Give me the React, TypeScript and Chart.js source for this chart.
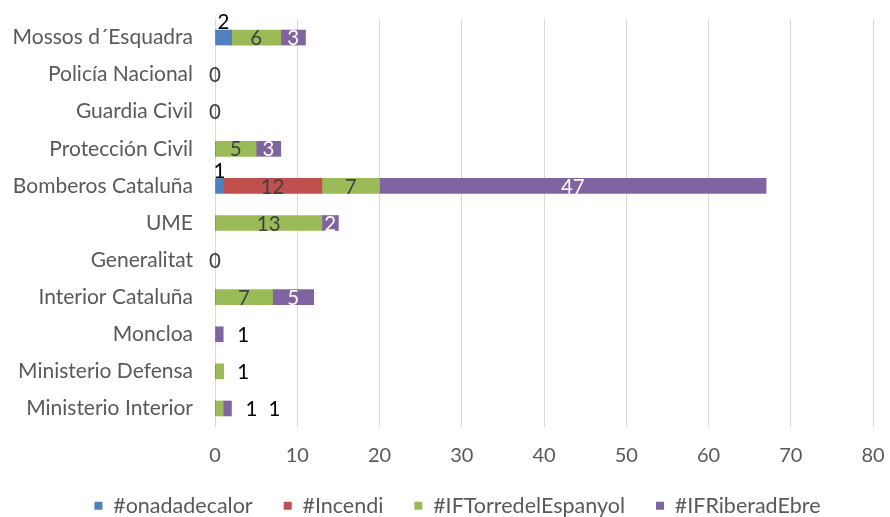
import React, { useEffect, useRef } from "react";
import { Chart, registerables } from "chart.js";

Chart.register(...registerables);

const categories = [
  "Mossos d´Esquadra",
  "Policía Nacional",
  "Guardia Civil",
  "Protección Civil",
  "Bomberos Cataluña",
  "UME",
  "Generalitat",
  "Interior Cataluña",
  "Moncloa",
  "Ministerio Defensa",
  "Ministerio Interior",
];
const seriesNames = ["#onadadecalor", "#Incendi", "#IFTorredelEspanyol", "#IFRiberadEbre"];
const onadadecalor = [2, 0, 0, 0, 1, 0, 0, 0, 0, 0, 0];
const incendi = [0, 0, 0, 0, 12, 0, 0, 0, 0, 0, 0];
const torreEspanyol = [6, 0, 0, 5, 7, 13, 0, 7, 0, 1, 1];
const riberaEbre = [3, 0, 0, 3, 47, 2, 0, 5, 1, 0, 1];
const xTicks = [0, 10, 20, 30, 40, 50, 60, 70, 80];

const colors = ["#4F81BD", "#C0504D", "#9BBB59", "#8064A2"];
const FONT = "Lato";

const labelPlugin = {
  id: "excelLabels",
  afterDatasetsDraw(chart: any) {
    const ctx = chart.ctx;
    const xScale = chart.scales.x;
    const n = chart.data.labels.length;
    ctx.save();
    ctx.font = `20.5px ${FONT}`;
    ctx.textAlign = "center";
    ctx.textBaseline = "middle";
    for (let i = 0; i < n; i++) {
      const vals = chart.data.datasets.map((d: any) => d.data[i] as number);
      const total = vals.reduce((a: number, b: number) => a + b, 0);
      const rowY = chart.getDatasetMeta(0).data[i].y;
      if (total === 0) {
        ctx.fillStyle = "#404040";
        ctx.fillText("0", xScale.getPixelForValue(0), rowY + 1);
        continue;
      }
      let cursor = xScale.getPixelForValue(total) + 20;
      chart.data.datasets.forEach((ds: any, d: number) => {
        const v = vals[d];
        if (!v) return;
        const bar = chart.getDatasetMeta(d).data[i];
        const { x, base, y } = bar.getProps(["x", "base", "y"], true);
        const w = Math.abs(x - base);
        const txt = String(v);
        const tw = ctx.measureText(txt).width;
        if (d === 0) {
          ctx.fillStyle = "#000000";
          ctx.fillText(txt, (x + base) / 2, y - 15);
        } else if (w < tw + 2) {
          ctx.fillStyle = "#000000";
          ctx.fillText(txt, cursor, y + 1);
          cursor += 23;
        } else {
          ctx.fillStyle = d === 3 ? "#FFFFFF" : "#404040";
          ctx.fillText(txt, (x + base) / 2, y + 1);
        }
      });
    }
    ctx.restore();
  },
};

const legendShiftPlugin = {
  id: "legendShift",
  afterLayout(chart: any) {
    const l = chart.legend;
    if (l) {
      l.left += 21;
      l.right += 21;
    }
  },
};

export default function App() {
  const ref = useRef<HTMLCanvasElement | null>(null);
  useEffect(() => {
    document.body.style.margin = "0";
    if (!ref.current) return;
    Chart.defaults.font.family = FONT;
    const data = [onadadecalor, incendi, torreEspanyol, riberaEbre];
    const chart = new Chart(ref.current, {
      type: "bar",
      data: {
        labels: categories,
        datasets: seriesNames.map((name, k) => ({
          label: name,
          data: data[k],
          backgroundColor: colors[k],
          borderWidth: 0,
          barThickness: 15,
        })),
      },
      options: {
        indexAxis: "y",
        animation: false,
        responsive: true,
        maintainAspectRatio: false,
        layout: { padding: { top: 19, right: 17, left: 0, bottom: 0 } },
        scales: {
          x: {
            stacked: true,
            min: 0,
            max: 80,
            afterBuildTicks: (scale: any) => {
              scale.ticks = xTicks.map((v) => ({ value: v }));
            },
            afterFit: (scale: any) => {
              scale.height = 37;
            },
            grid: { color: "#D9D9D9", drawTicks: true, tickLength: 17, tickColor: "rgba(0,0,0,0)", lineWidth: 1 },
            border: { display: false },
            ticks: { color: "#595959", font: { size: 20, family: FONT }, padding: 0 },
          },
          y: {
            stacked: true,
            afterFit: (scale: any) => {
              scale.width = 215;
            },
            grid: { display: false, drawTicks: true, tickLength: 22 },
            border: { display: false },
            ticks: { color: "#595959", font: { size: 21, family: FONT }, padding: 0, autoSkip: false },
          },
        },
        plugins: {
          tooltip: { enabled: false },
          legend: {
            position: "bottom",
            maxHeight: 53,
            labels: {
              boxWidth: 8,
              boxHeight: 8,
              padding: 31,
              color: "#595959",
              font: { size: 21.5, family: FONT },
            },
          },
        },
      },
      plugins: [labelPlugin, legendShiftPlugin],
    } as any);
    return () => chart.destroy();
  }, []);
  return (
    <div style={{ width: 890, height: 517, position: "relative" }}>
      <canvas ref={ref} />
    </div>
  );
}
